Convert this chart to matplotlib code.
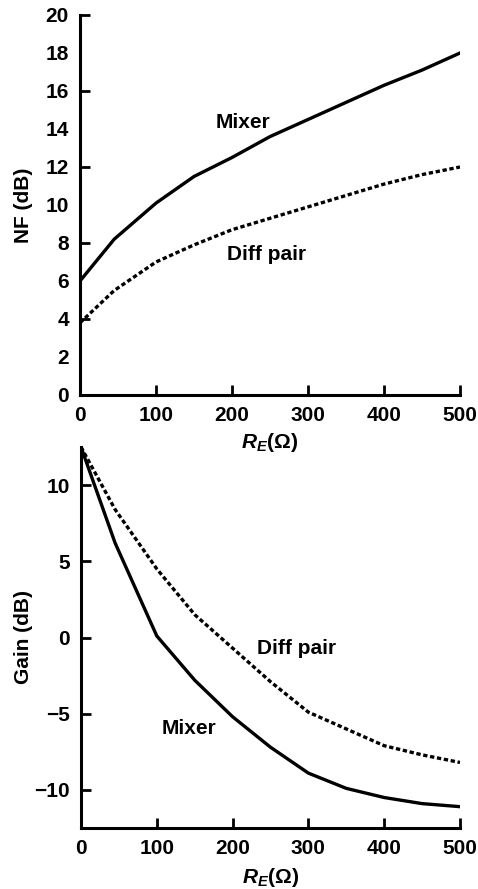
import matplotlib
matplotlib.use("Agg")
import matplotlib.pyplot as plt

# Emitter degeneration resistance (ohm)
re_ohm = [0, 45, 100, 150, 200, 250, 300, 350, 400, 450, 500]

# Noise figure (dB)
nf_mixer = [6.0, 8.2, 10.1, 11.5, 12.5, 13.6, 14.5, 15.4, 16.3, 17.1, 18.0]
nf_diff = [3.8, 5.5, 7.0, 7.9, 8.7, 9.3, 9.9, 10.5, 11.1, 11.6, 12.0]

# Conversion / small-signal gain (dB)
gain_mixer = [12.5, 6.2, 0.1, -2.8, -5.2, -7.2, -8.9, -9.9, -10.5, -10.9, -11.1]
gain_diff = [12.5, 8.4, 4.5, 1.5, -0.7, -2.9, -4.9, -6.0, -7.1, -7.7, -8.2]

nf_ticks = list(range(0, 21, 2))
gain_ticks = [-10, -5, 0, 5, 10]
x_ticks = [0, 100, 200, 300, 400, 500]

FONT = ["Liberation Sans", "DejaVu Sans"]
plt.rcParams["font.family"] = FONT
plt.rcParams["font.weight"] = "bold"
plt.rcParams["mathtext.fontset"] = "custom"
plt.rcParams["mathtext.it"] = "Liberation Sans:italic:bold"
plt.rcParams["mathtext.rm"] = "Liberation Sans:bold"

FS = 15
LW = 2.4
DOT = (0, (1.3, 0.8))

fig = plt.figure(figsize=(4.78, 8.89), dpi=100)
ax1 = fig.add_axes([80 / 478, 1 - 395 / 889, 380 / 478, 380 / 889])
ax2 = fig.add_axes([81 / 478, 1 - 828 / 889, 379 / 478, 381 / 889])
for ax in (ax1, ax2):
    ax.patch.set_visible(False)


def style(ax):
    for s in ("top", "right"):
        ax.spines[s].set_visible(False)
    for s in ("left", "bottom"):
        ax.spines[s].set_linewidth(2.2)
    ax.tick_params(direction="in", length=7, width=2.0, labelsize=FS, pad=8)
    ax.set_xlim(0, 500)
    ax.set_xticks(x_ticks)
    for lab in ax.get_xticklabels() + ax.get_yticklabels():
        lab.set_fontweight("bold")


# Top panel: noise figure
ax1.plot(re_ohm, nf_mixer, color="black", lw=LW, solid_joinstyle="miter")
ax1.plot(re_ohm, nf_diff, color="black", lw=LW, linestyle=DOT)
ax1.set_ylim(0, 20)
ax1.set_yticks(nf_ticks)
style(ax1)
for val, tick in zip(nf_ticks, ax1.yaxis.get_major_ticks()):
    if val % 4 != 0:
        tick.tick1line.set_visible(False)
ax1.set_ylabel("NF (dB)", fontsize=FS, fontweight="bold")
ax1.yaxis.set_label_coords(-0.124, 0.5)
ax1.set_xlabel(r"$R_E$(Ω)", fontsize=FS, fontweight="bold")
ax1.xaxis.set_label_coords(0.5, -0.124)
ax1.xaxis.label.set_va("center")
ax1.text(178, 14.05, "Mixer", fontsize=FS, fontweight="bold", ha="left", va="baseline")
ax1.text(193, 7.1, "Diff pair", fontsize=FS, fontweight="bold", ha="left", va="baseline")

# Bottom panel: gain
ax2.plot(re_ohm, gain_mixer, color="black", lw=LW, solid_joinstyle="miter")
ax2.plot(re_ohm, gain_diff, color="black", lw=LW, linestyle=DOT)
ax2.set_ylim(-12.5, 12.5)
ax2.set_yticks(gain_ticks)
ax2.set_yticklabels(["\u221210", "\u22125", "0", "5", "10"])
style(ax2)
ax2.set_ylabel("Gain (dB)", fontsize=FS, fontweight="bold")
ax2.yaxis.set_label_coords(-0.127, 0.5)
ax2.set_xlabel(r"$R_E$(Ω)", fontsize=FS, fontweight="bold")
ax2.xaxis.set_label_coords(0.5, -0.129)
ax2.xaxis.label.set_va("center")
ax2.text(232, -1.05, "Diff pair", fontsize=FS, fontweight="bold", ha="left", va="baseline")
ax2.text(107, -6.36, "Mixer", fontsize=FS, fontweight="bold", ha="left", va="baseline")

fig.savefig("out.png", dpi=100)
